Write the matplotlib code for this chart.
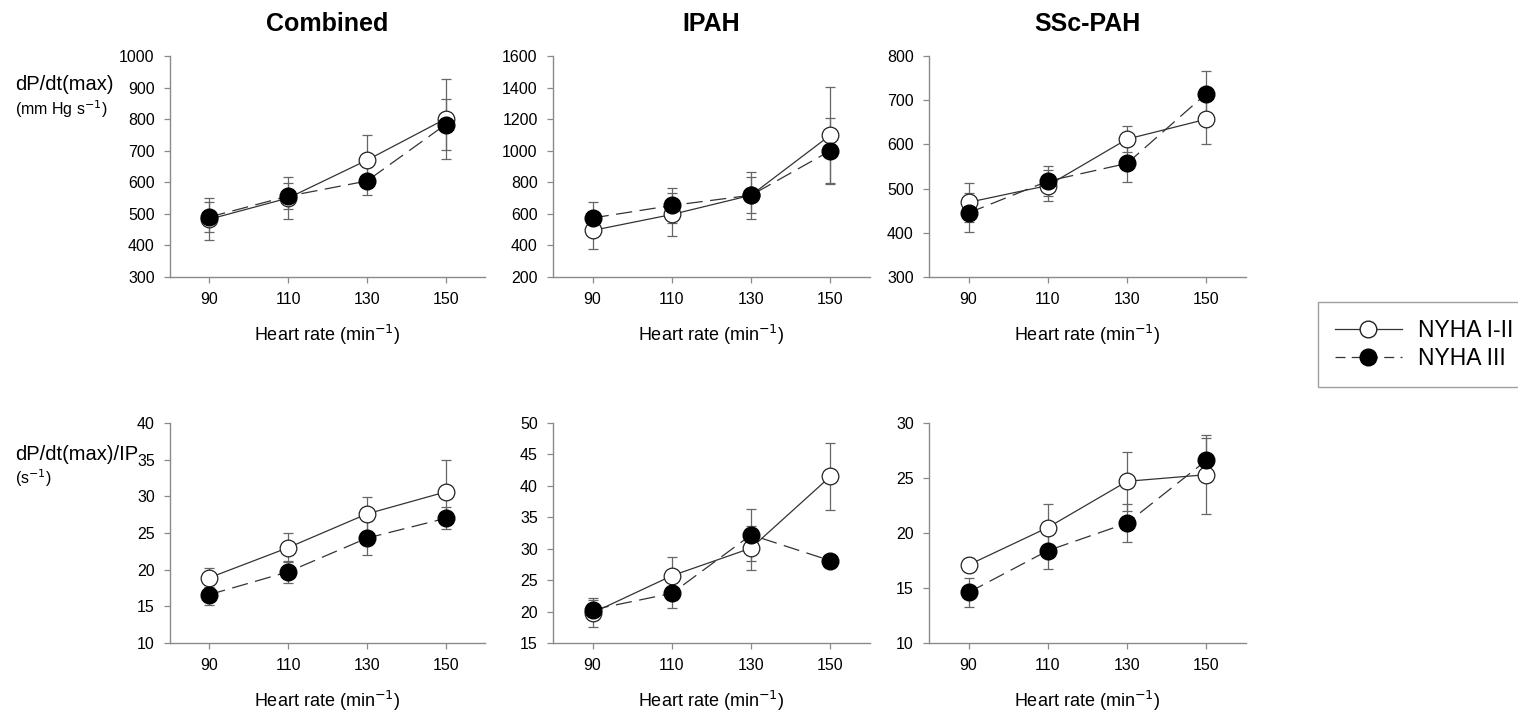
import matplotlib
matplotlib.use("Agg")
import matplotlib.pyplot as plt
from matplotlib.lines import Line2D

plt.rcParams['font.family'] = ['Liberation Sans', 'DejaVu Sans']

# Herzfrequenz-Stufen
hr = [90, 110, 130, 150]

# dP/dt(max), NYHA I-II (offen) und NYHA III (gefuellt), mit Fehlern
comb_dpdt_open = [483, 550, 670, 801]
comb_dpdt_open_err = [67, 67, 81, 127]
comb_dpdt_fill = [490, 556, 604, 783]
comb_dpdt_fill_err = [48, 42, 45, 80]

ipah_dpdt_open = [495, 596, 718, 1099]
ipah_dpdt_open_err = [115, 135, 150, 305]
ipah_dpdt_fill = [574, 653, 718, 1000]
ipah_dpdt_fill_err = [100, 108, 115, 210]

ssc_dpdt_open = [469, 507, 612, 657]
ssc_dpdt_open_err = [44, 35, 30, 56]
ssc_dpdt_fill = [445, 517, 557, 715]
ssc_dpdt_fill_err = [44, 33, 43, 51]

# dP/dt(max)/IP
comb_ip_open = [18.9, 23.0, 27.6, 30.6]
comb_ip_open_err = [1.3, 2.0, 2.3, 4.4]
comb_ip_fill = [16.6, 19.7, 24.3, 27.0]
comb_ip_fill_err = [1.4, 1.5, 2.3, 1.5]

ipah_ip_open = [19.8, 25.7, 30.1, 41.5]
ipah_ip_open_err = [2.3, 3.0, 3.5, 5.3]
ipah_ip_fill = [20.3, 22.9, 32.2, 28.1]
ipah_ip_fill_err = [1.6, 2.3, 4.1, 0]

ssc_ip_open = [17.1, 20.5, 24.7, 25.3]
ssc_ip_open_err = [0.6, 2.1, 2.7, 3.6]
ssc_ip_fill = [14.6, 18.4, 20.9, 26.6]
ssc_ip_fill_err = [1.35, 1.7, 1.7, 2.0]

titles = ['Combined', 'IPAH', 'SSc-PAH']
top_ylims = [(300, 1000, 100), (200, 1600, 200), (300, 800, 100)]
bot_ylims = [(10, 40, 5), (15, 50, 5), (10, 30, 5)]

W, H = 1518, 714
fig = plt.figure(figsize=(W / 100, H / 100), dpi=100)

col_x = [(170, 485), (553, 870), (929, 1246)]
row_y = [(56, 277), (423, 643)]

line_col = '#333333'
axis_col = '#8a8a8a'
err_col = '#666666'


def make_ax(col, row):
    x0, x1 = col_x[col]
    y0, y1 = row_y[row]
    return fig.add_axes([x0 / W, 1 - y1 / H, (x1 - x0) / W, (y1 - y0) / H])


def draw(ax, yo, eo, yf, ef, lims):
    ax.errorbar(hr, yo, yerr=eo, fmt='none', ecolor=err_col, elinewidth=0.9,
                capsize=3.5, capthick=0.9, zorder=2)
    ax.errorbar(hr, yf, yerr=ef, fmt='none', ecolor=err_col, elinewidth=0.9,
                capsize=3.5, capthick=0.9, zorder=2)
    ax.plot(hr, yo, '-', color=line_col, lw=0.9, marker='o', ms=12,
            mfc='white', mec='#222222', mew=0.9, zorder=3)
    ax.plot(hr, yf, color=line_col, lw=0.9, dashes=(13, 6), marker='o',
            ms=12, mfc='black', mec='black', zorder=4)
    lo, hi, st = lims
    ax.set_ylim(lo, hi)
    ax.set_yticks(range(lo, hi + 1, st))
    ax.set_xlim(80, 160)
    ax.set_xticks(hr)
    for s in ['top', 'right']:
        ax.spines[s].set_visible(False)
    for s in ['left', 'bottom']:
        ax.spines[s].set_color(axis_col)
        ax.spines[s].set_linewidth(1.0)
    ax.tick_params(axis='both', direction='out', length=4, width=0.9,
                   color=axis_col, labelsize=11.5, pad=7)
    ax.set_xlabel('Heart rate (min$^{-1}$)', fontsize=13, labelpad=11)


top_data = [
    (comb_dpdt_open, comb_dpdt_open_err, comb_dpdt_fill, comb_dpdt_fill_err),
    (ipah_dpdt_open, ipah_dpdt_open_err, ipah_dpdt_fill, ipah_dpdt_fill_err),
    (ssc_dpdt_open, ssc_dpdt_open_err, ssc_dpdt_fill, ssc_dpdt_fill_err),
]
bot_data = [
    (comb_ip_open, comb_ip_open_err, comb_ip_fill, comb_ip_fill_err),
    (ipah_ip_open, ipah_ip_open_err, ipah_ip_fill, ipah_ip_fill_err),
    (ssc_ip_open, ssc_ip_open_err, ssc_ip_fill, ssc_ip_fill_err),
]

for i in range(3):
    ax = make_ax(i, 0)
    draw(ax, *top_data[i], top_ylims[i])
    ax.set_title(titles[i], fontsize=18, fontweight='bold', pad=18)
    ax2 = make_ax(i, 1)
    draw(ax2, *bot_data[i], bot_ylims[i])

# Beschriftung der y-Achse links
fig.text(15 / W, 1 - 85 / H, 'dP/dt(max)', fontsize=14.5, va='center')
fig.text(15 / W, 1 - 109 / H, '(mm Hg s$^{-1}$)', fontsize=11.5, va='center')
fig.text(15 / W, 1 - 454 / H, 'dP/dt(max)/IP', fontsize=14.5, va='center')
fig.text(15 / W, 1 - 478 / H, '(s$^{-1}$)', fontsize=11.5, va='center')

handles = [
    Line2D([], [], color=line_col, lw=0.9, marker='o', ms=12,
           mfc='white', mec='#222222'),
    Line2D([], [], color=line_col, lw=0.9, dashes=(8, 5), marker='o',
           ms=12, mfc='black', mec='black'),
]
leg = fig.legend(handles, ['NYHA I-II', 'NYHA III'], loc='upper left',
                 bbox_to_anchor=(1318 / W, 1 - 302 / H), fontsize=16.5,
                 frameon=True, fancybox=False, edgecolor='#888888',
                 handlelength=2.9, borderpad=0.75, labelspacing=0.2,
                 handletextpad=0.7, borderaxespad=0)
leg.get_frame().set_linewidth(1.0)

fig.savefig('out.png', dpi=100)
